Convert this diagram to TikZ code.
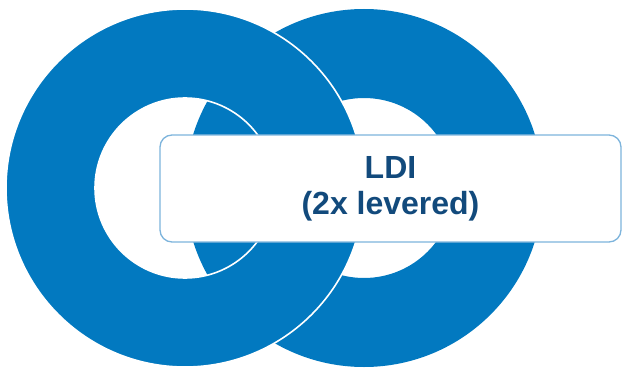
\documentclass[tikz,border=0pt]{standalone}
\usepackage{fontspec}
\setmainfont{Liberation Sans}
\usetikzlibrary{positioning}
\definecolor{ringblue}{RGB}{2,121,192}
\definecolor{boxline}{RGB}{125,180,220}
\definecolor{textblue}{RGB}{18,74,124}

\begin{document}
\begin{tikzpicture}[
      x=1pt,y=1pt,
      ring/.style={
         fill=ringblue,
         even odd rule},
      toplink/.style={
         ring,
         draw=white,
         line width=1.6pt},
      labelbox/.style={
         rectangle,
         rounded corners=12pt,
         draw=boxline,
         line width=1.3pt,
         fill=white,
         minimum width=461pt,
         minimum height=107pt,
         align=center,
         text=textblue,
         font=\fontsize{32}{36}\selectfont\bfseries}
      ]
      \useasboundingbox (0,0) rectangle (623,370);
      % back ring, then front ring with white edge
      \fill[ring] (364,182) circle (179pt) (364,182) circle (90pt);
      \path[toplink] (185,182) circle (179pt) (185,182) circle (90pt);
      \node[labelbox] (ldi) at (390.5,181.5) {LDI\\(2x levered)};
\end{tikzpicture}
\end{document}
